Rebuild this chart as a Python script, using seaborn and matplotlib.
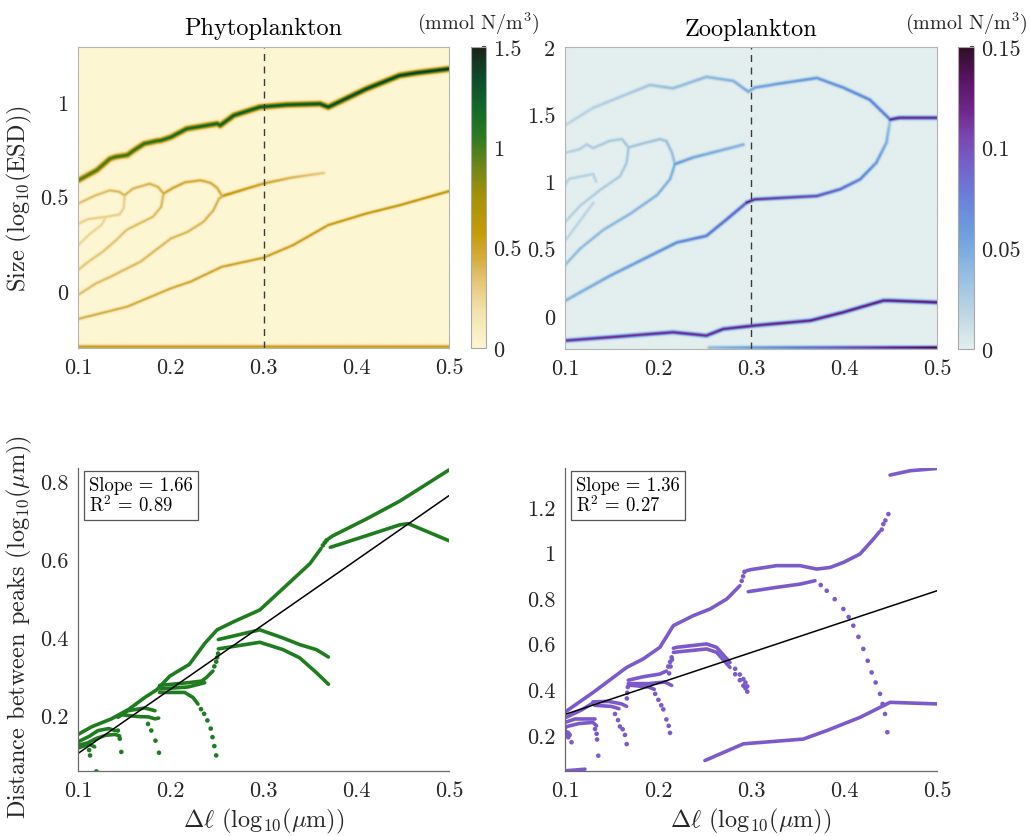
import numpy as np
import matplotlib
matplotlib.use("Agg")
import matplotlib.pyplot as plt
from matplotlib.colors import LinearSegmentedColormap
from matplotlib.ticker import FuncFormatter
import seaborn as sns

# ---------------- data: heatmap branches (x = Δℓ, y = log10 ESD) ----------------
ph_top_x = [0.1, 0.12, 0.134, 0.14, 0.153, 0.16, 0.171, 0.185, 0.189, 0.2, 0.217, 0.25, 0.2533, 0.268, 0.296, 0.325, 0.361, 0.37, 0.411, 0.447, 0.465, 0.5]
ph_top_y = [0.586, 0.64, 0.70, 0.71, 0.72, 0.745, 0.78, 0.795, 0.797, 0.815, 0.859, 0.886, 0.877, 0.93, 0.974, 0.986, 0.991, 0.974, 1.07, 1.141, 1.155, 1.176]
ph_bot_x = [0.1, 0.1528, 0.2, 0.221, 0.255, 0.3, 0.332, 0.37, 0.411, 0.447, 0.5]
ph_bot_y = [-0.148, -0.083, 0.014, 0.049, 0.128, 0.176, 0.243, 0.349, 0.41, 0.454, 0.528]
ph_p3a_x = [0.1, 0.119, 0.135, 0.167, 0.2, 0.218, 0.235, 0.246, 0.252, 0.257]
ph_p3a_y = [-0.02, 0.04, 0.076, 0.155, 0.278, 0.313, 0.366, 0.428, 0.49, 0.505]
ph_p3b_x = [0.257, 0.3, 0.33, 0.365]
ph_p3b_y = [0.505, 0.569, 0.60, 0.625]
ph_p4_x = [0.192, 0.202, 0.215, 0.232, 0.243, 0.25, 0.255]
ph_p4_y = [0.516, 0.545, 0.575, 0.586, 0.572, 0.545, 0.505]
ph_rowa_x = [0.1, 0.107, 0.119, 0.134, 0.144, 0.15, 0.159, 0.177, 0.186, 0.192]
ph_rowa_y = [0.463, 0.48, 0.507, 0.533, 0.525, 0.507, 0.542, 0.568, 0.551, 0.516]
ph_c_x = [0.1, 0.1086, 0.1266, 0.141, 0.152, 0.166, 0.1805, 0.1895, 0.192]
ph_c_y = [0.112, 0.147, 0.209, 0.27, 0.323, 0.358, 0.393, 0.446, 0.516]
ph_rowb_x = [0.1, 0.11, 0.118, 0.13, 0.1445, 0.149, 0.15]
ph_rowb_y = [0.355, 0.38, 0.385, 0.393, 0.405, 0.44, 0.507]
ph_d_x = [0.1, 0.112, 0.125, 0.13]
ph_d_y = [0.244, 0.30, 0.35, 0.393]
ph_edge_x = [0.1, 0.5]
ph_edge_y = [-0.295, -0.295]

zo_a_x = [0.1, 0.13, 0.166, 0.191, 0.216, 0.252, 0.281, 0.297, 0.304, 0.335, 0.371, 0.3995, 0.428, 0.4426, 0.45]
zo_a_y = [1.42, 1.55, 1.65, 1.72, 1.695, 1.78, 1.75, 1.67, 1.70, 1.735, 1.772, 1.70, 1.61, 1.512, 1.462]
zo_tail_x = [0.45, 0.46, 0.5]
zo_tail_y = [1.462, 1.475, 1.475]
zo_b1_x = [0.45, 0.446, 0.435, 0.4175, 0.396, 0.371, 0.304, 0.2953]
zo_b1_y = [1.462, 1.29, 1.14, 1.016, 0.942, 0.892, 0.867, 0.843]
zo_b2_x = [0.2953, 0.274, 0.252, 0.22, 0.184, 0.148, 0.1]
zo_b2_y = [0.843, 0.719, 0.595, 0.545, 0.421, 0.297, 0.112]
zo_r_x = [0.1, 0.115, 0.123, 0.13, 0.148, 0.161, 0.168, 0.181, 0.202, 0.209, 0.2147, 0.218]
zo_r_y = [1.214, 1.24, 1.276, 1.25, 1.303, 1.316, 1.254, 1.279, 1.316, 1.30, 1.217, 1.13]
zo_rc_x = [0.218, 0.238, 0.2917]
zo_rc_y = [1.13, 1.18, 1.275]
zo_c_x = [0.1, 0.116, 0.141, 0.170, 0.199, 0.213, 0.218]
zo_c_y = [0.38, 0.5, 0.64, 0.76, 0.9, 1.02, 1.13]
zo_d_x = [0.1, 0.116, 0.138, 0.159, 0.166, 0.168]
zo_d_y = [0.70, 0.82, 0.94, 1.04, 1.14, 1.254]
zo_e_x = [0.1, 0.104, 0.13, 0.133]
zo_e_y = [0.98, 1.02, 1.056, 1.0]
zo_f_x = [0.1, 0.115, 0.13]
zo_f_y = [0.56, 0.70, 0.84]
zo_g_x = [0.1, 0.15, 0.216, 0.252, 0.27, 0.304, 0.364, 0.3995, 0.4426, 0.45, 0.5]
zo_g_y = [-0.186, -0.16, -0.124, -0.149, -0.1, -0.074, -0.037, 0.025, 0.112, 0.112, 0.099]
zo_h_x = [0.255, 0.5]
zo_h_y = [-0.238, -0.238]

# ---------------- data: distance between peaks (green = phyto) ----------------
g_main_x = [0.100, 0.115, 0.136, 0.155, 0.172, 0.185, 0.199, 0.208, 0.220, 0.237, 0.250, 0.268, 0.296, 0.321, 0.350, 0.362]
g_main_y = [0.150, 0.170, 0.190, 0.215, 0.245, 0.265, 0.300, 0.313, 0.330, 0.385, 0.419, 0.440, 0.470, 0.525, 0.589, 0.628]
g_main2_x = [0.370, 0.375, 0.411, 0.447, 0.500]
g_main2_y = [0.653, 0.661, 0.704, 0.750, 0.830]
g_b1_x = [0.372, 0.411, 0.447, 0.456, 0.500]
g_b1_y = [0.631, 0.661, 0.689, 0.692, 0.648]
g_b2_x = [0.2513, 0.296, 0.321, 0.339, 0.357, 0.370]
g_b2_y = [0.394, 0.419, 0.398, 0.381, 0.368, 0.349]
g_b3_x = [0.2513, 0.296, 0.321, 0.339, 0.357, 0.370]
g_b3_y = [0.370, 0.387, 0.368, 0.347, 0.309, 0.279]
g_c1_x = [0.188, 0.2186, 0.233, 0.2383, 0.242, 0.2455]
g_c1_y = [0.276, 0.283, 0.287, 0.296, 0.305, 0.313]
g_c2_x = [0.188, 0.2186, 0.2366]
g_c2_y = [0.267, 0.272, 0.283]
g_c3_x = [0.188, 0.215, 0.224, 0.2294]
g_c3_y = [0.258, 0.258, 0.245, 0.228]
g_d1_x = [0.143, 0.154, 0.172, 0.183]
g_d1_y = [0.194, 0.211, 0.218, 0.211]
g_d2_x = [0.149, 0.165, 0.176, 0.183, 0.187]
g_d2_y = [0.200, 0.196, 0.195, 0.190, 0.192]
g_e1_x = [0.1, 0.112, 0.1216, 0.133, 0.14]
g_e1_y = [0.131, 0.145, 0.16, 0.165, 0.16]
g_e2_x = [0.1, 0.11, 0.12, 0.13, 0.14, 0.145]
g_e2_y = [0.122, 0.128, 0.14, 0.148, 0.15, 0.146]
g_e3_x = [0.1, 0.106, 0.112, 0.118]
g_e3_y = [0.115, 0.12, 0.125, 0.118]
g_dots_x = [0.364, 0.366, 0.368,
            0.247, 0.249, 0.250, 0.251,
            0.2326, 0.236, 0.2395, 0.2431, 0.245, 0.247, 0.249,
            0.1755, 0.179, 0.1835, 0.1873,
            0.143, 0.145, 0.1467,
            0.112, 0.113, 0.1198]
g_dots_y = [0.636, 0.643, 0.649,
            0.325, 0.337, 0.348, 0.358,
            0.215, 0.203, 0.186, 0.165, 0.143, 0.12, 0.096,
            0.177, 0.160, 0.134, 0.103,
            0.160, 0.139, 0.105,
            0.110, 0.096, 0.055]
g_fit_x = [0.1, 0.5]
g_fit_y = [0.101, 0.764]

# ---------------- data: distance between peaks (purple = zoo) ----------------
v_main1_x = [0.1, 0.1305, 0.1663, 0.184, 0.202, 0.2165, 0.238, 0.256, 0.274, 0.288]
v_main1_y = [0.30, 0.387, 0.496, 0.533, 0.584, 0.679, 0.723, 0.752, 0.796, 0.854]
v_main2_x = [0.2955, 0.299, 0.3276, 0.3527, 0.3706, 0.385, 0.3993, 0.4172, 0.4315, 0.438]
v_main2_y = [0.92, 0.924, 0.942, 0.942, 0.927, 0.934, 0.956, 0.993, 1.058, 1.09]
v_top_x = [0.4495, 0.471, 0.5]
v_top_y = [1.339, 1.358, 1.368]
v_b1_x = [0.2971, 0.3276, 0.3527, 0.3688]
v_b1_y = [0.828, 0.847, 0.861, 0.876]
v_bot_x = [0.2505, 0.2918, 0.3348, 0.3563, 0.3814, 0.4172, 0.4423, 0.4495, 0.471, 0.5]
v_bot_y = [0.088, 0.161, 0.175, 0.182, 0.219, 0.277, 0.328, 0.343, 0.34, 0.336]
v_c1_x = [0.2165, 0.22, 0.2523, 0.263, 0.2774]
v_c1_y = [0.58, 0.584, 0.599, 0.584, 0.518]
v_c2_x = [0.2165, 0.2523, 0.263, 0.2774]
v_c2_y = [0.562, 0.577, 0.562, 0.496]
v_d1_x = [0.168, 0.184, 0.202, 0.209]
v_d1_y = [0.44, 0.455, 0.467, 0.48]
v_d2_x = [0.168, 0.19, 0.2075, 0.2147]
v_d2_y = [0.425, 0.425, 0.432, 0.417]
v_d3_x = [0.17, 0.19, 0.196]
v_d3_y = [0.418, 0.41, 0.40]
v_e1_x = [0.13, 0.147, 0.161, 0.1663]
v_e1_y = [0.345, 0.347, 0.336, 0.325]
v_e2_x = [0.132, 0.15, 0.158]
v_e2_y = [0.33, 0.325, 0.315]
v_f1_x = [0.1, 0.1108, 0.1323]
v_f1_y = [0.255, 0.27, 0.27]
v_f2_x = [0.1, 0.115, 0.13, 0.134]
v_f2_y = [0.235, 0.25, 0.255, 0.24]
v_g_x = [0.1, 0.118, 0.13]
v_g_y = [0.275, 0.31, 0.34]
v_low_x = [0.1, 0.11, 0.1215]
v_low_y = [0.043, 0.046, 0.05]
v_dots_x = [0.290, 0.2915, 0.293,
            0.4405, 0.4423, 0.4445, 0.4477,
            0.375, 0.3814, 0.390, 0.3993, 0.405, 0.41, 0.4155, 0.4208, 0.4255, 0.4297, 0.434, 0.4387, 0.4415, 0.4441, 0.4466,
            0.283, 0.288, 0.2918, 0.294, 0.296,
            0.283, 0.288, 0.2918, 0.294, 0.296,
            0.2120, 0.2135, 0.2150,
            0.211, 0.213, 0.2147,
            0.197, 0.2004, 0.2035, 0.2057, 0.209, 0.2115, 0.2129,
            0.1538, 0.157, 0.159, 0.162, 0.1645, 0.1663,
            0.1665, 0.167, 0.1675,
            0.1323, 0.134, 0.1345, 0.1358,
            0.1, 0.1005, 0.101, 0.102, 0.1025, 0.103, 0.1035, 0.104, 0.105, 0.107]
v_dots_y = [0.875, 0.895, 0.915,
            1.10, 1.124, 1.14, 1.168,
            0.857, 0.832, 0.795, 0.752, 0.717, 0.679, 0.63, 0.577, 0.525, 0.474, 0.43, 0.38, 0.336, 0.292, 0.212,
            0.49, 0.465, 0.445, 0.43, 0.413,
            0.466, 0.44, 0.416, 0.405, 0.39,
            0.47, 0.50, 0.53,
            0.50, 0.52, 0.54,
            0.38, 0.354, 0.33, 0.312, 0.268, 0.24, 0.209,
            0.292, 0.265, 0.237, 0.225, 0.2, 0.16,
            0.36, 0.385, 0.41,
            0.226, 0.205, 0.18, 0.109,
            0.23, 0.215, 0.205, 0.2, 0.195, 0.21, 0.19, 0.205, 0.2, 0.168]
v_fit_x = [0.1, 0.5]
v_fit_y = [0.29, 0.832]

# ---------------- style ----------------
sns.set_theme(style="white")
plt.rcParams["font.family"] = ["cmr10", "DejaVu Serif"]
plt.rcParams["mathtext.fontset"] = "cm"
plt.rcParams["axes.unicode_minus"] = False
plt.rcParams["axes.formatter.use_mathtext"] = True
TXT = "#262626"

speed = LinearSegmentedColormap.from_list("speed", [
    (0.0, "#fdf6d2"), (0.12, "#f3e2ae"), (0.22, "#e4c676"), (0.3, "#d4ac3a"),
    (0.38, "#c49c08"), (0.5, "#a59205"), (0.6, "#718616"), (0.7, "#2f7a22"),
    (0.8, "#11682a"), (0.9, "#0f4a2c"), (1.0, "#1b2219")])
dense = LinearSegmentedColormap.from_list("dense", [
    (0.0, "#e3eeee"), (0.12, "#bcd6e2"), (0.25, "#93bde2"), (0.38, "#6e9fdf"),
    (0.5, "#6a80da"), (0.6, "#7464cc"), (0.7, "#7a48b2"), (0.8, "#6e2488"),
    (0.9, "#571361"), (1.0, "#2e0f25")])

fmt = FuncFormatter(lambda v, p: "%g" % round(v, 4))


def render(paths, ylim, W=372.0, H=302.0, nx=480, ny=390):
    gx = np.linspace(0, W, nx)
    gy = np.linspace(0, H, ny)
    PX, PY = np.meshgrid(gx, gy)
    PX = PX.ravel()[:, None]
    PY = PY.ravel()[:, None]
    field = np.zeros(PX.shape[0])
    for xs, ys, a0, a1, sig in paths:
        xs = np.asarray(xs, float)
        ys = np.asarray(ys, float)
        px = (xs - 0.1) / 0.4 * W
        py = (ys - ylim[0]) / (ylim[1] - ylim[0]) * H
        amps = np.linspace(a0, a1, len(xs))
        ax_, ay_ = px[:-1][None, :], py[:-1][None, :]
        dx, dy = (px[1:] - px[:-1])[None, :], (py[1:] - py[:-1])[None, :]
        L2 = np.maximum(dx ** 2 + dy ** 2, 1e-9)
        t = np.clip(((PX - ax_) * dx + (PY - ay_) * dy) / L2, 0, 1)
        d2 = (PX - ax_ - t * dx) ** 2 + (PY - ay_ - t * dy) ** 2
        amp = amps[:-1][None, :] + t * (amps[1:] - amps[:-1])[None, :]
        val = (amp * np.exp(-d2 / (2 * sig ** 2))).max(axis=1)
        field = np.maximum(field, val)
    return field.reshape(ny, nx)


fig = plt.figure(figsize=(10.30, 8.37), dpi=100)
W, H = 1030.0, 837.0


def box(l, r, t, b):
    return [l / W, (H - b) / H, (r - l) / W, (b - t) / H]


ax1 = fig.add_axes(box(78, 449, 48, 349))
cax1 = fig.add_axes(box(471, 486, 48, 349))
ax2 = fig.add_axes(box(565, 937, 48, 350))
cax2 = fig.add_axes(box(958, 974, 48, 350))
ax3 = fig.add_axes(box(78, 449, 469, 772))
ax4 = fig.add_axes(box(565, 937, 469, 772))

# ---------------- top heatmaps ----------------
ph_ylim = (-0.3, 1.29)
ph_paths = [
    (ph_top_x, ph_top_y, 1.0, 1.45, 1.9),
    (ph_bot_x, ph_bot_y, 0.45, 0.62, 1.15),
    (ph_p3a_x, ph_p3a_y, 0.38, 0.45, 1.15),
    (ph_p3b_x, ph_p3b_y, 0.62, 0.32, 1.25),
    (ph_p4_x, ph_p4_y, 0.5, 0.45, 1.25),
    (ph_rowa_x, ph_rowa_y, 0.37, 0.45, 1.15),
    (ph_c_x, ph_c_y, 0.33, 0.42, 1.15),
    (ph_rowb_x, ph_rowb_y, 0.3, 0.3, 1.1),
    (ph_d_x, ph_d_y, 0.27, 0.27, 1.1),
    (ph_edge_x, ph_edge_y, 0.55, 0.55, 1.4),
]
ph_field = render(ph_paths, ph_ylim)
im1 = ax1.imshow(ph_field, extent=[0.1, 0.5, ph_ylim[0], ph_ylim[1]], origin="lower",
                 aspect="auto", cmap=speed, vmin=0, vmax=1.5, interpolation="bilinear")

zo_ylim = (-0.246, 2.0)
zo_paths = [
    (zo_a_x, zo_a_y, 0.018, 0.085, 1.2),
    (zo_tail_x, zo_tail_y, 0.125, 0.125, 1.3),
    (zo_b1_x, zo_b1_y, 0.035, 0.135, 1.2),
    (zo_b2_x, zo_b2_y, 0.1, 0.045, 1.2),
    (zo_r_x, zo_r_y, 0.022, 0.038, 1.1),
    (zo_rc_x, zo_rc_y, 0.065, 0.045, 1.2),
    (zo_c_x, zo_c_y, 0.038, 0.05, 1.1),
    (zo_d_x, zo_d_y, 0.022, 0.032, 1.05),
    (zo_e_x, zo_e_y, 0.022, 0.022, 1.05),
    (zo_f_x, zo_f_y, 0.02, 0.02, 1.05),
    (zo_g_x, zo_g_y, 0.12, 0.135, 1.3),
    (zo_h_x, zo_h_y, 0.04, 0.15, 1.2),
]
zo_field = render(zo_paths, zo_ylim)
im2 = ax2.imshow(zo_field, extent=[0.1, 0.5, zo_ylim[0], zo_ylim[1]], origin="lower",
                 aspect="auto", cmap=dense, vmin=0, vmax=0.15, interpolation="bilinear")

for ax, ylim, yt, title in [(ax1, ph_ylim, [0, 0.5, 1], "Phytoplankton"),
                            (ax2, zo_ylim, [0, 0.5, 1, 1.5, 2], "Zooplankton")]:
    ax.set_xlim(0.1, 0.5)
    ax.set_ylim(*ylim)
    ax.set_xticks([0.1, 0.2, 0.3, 0.4, 0.5])
    ax.set_yticks(yt)
    ax.xaxis.set_major_formatter(fmt)
    ax.yaxis.set_major_formatter(fmt)
    ax.tick_params(length=0, labelsize=16, colors=TXT, pad=7)
    ax.axvline(0.3, color="#3a3a3a", lw=1.0, ls=(0, (5, 4)))
    for s in ax.spines.values():
        s.set_color("#b4b4b4")
        s.set_linewidth(0.8)
    ax.set_title(title, fontsize=17.5, color="black", pad=9)

ax1.set_ylabel(r"Size (log$_{10}$(ESD))", fontsize=17.5, color=TXT)
ax1.yaxis.set_label_coords(-0.118, 0.5)

for cax, im, ticks in [(cax1, im1, [0, 0.5, 1, 1.5]), (cax2, im2, [0, 0.05, 0.1, 0.15])]:
    cb = fig.colorbar(im, cax=cax, ticks=ticks)
    cb.ax.yaxis.set_major_formatter(fmt)
    cb.ax.tick_params(labelsize=16, colors=TXT, direction="in", length=3, pad=5)
    cb.outline.set_edgecolor("#a8a8a8")
    cb.outline.set_linewidth(0.8)
    pos = cax.get_position()
    fig.text(pos.x0 + pos.width / 2, 1 - 23 / H, r"(mmol N/m$^3$)", ha="center", va="center",
             fontsize=14.5, color=TXT)

# ---------------- bottom scatter panels ----------------
GREEN = "#1f7d1f"
PURPLE = "#7c5acc"
LW = 2.6


def draw(ax, lines, dots_x, dots_y, color, fit_x, fit_y):
    for xs, ys in lines:
        sns.lineplot(x=xs, y=ys, ax=ax, color=color, lw=LW, sort=False, estimator=None,
                     solid_capstyle="round", solid_joinstyle="round")
    sns.scatterplot(x=dots_x, y=dots_y, ax=ax, color=color, s=11, edgecolor="none", linewidth=0)
    sns.lineplot(x=fit_x, y=fit_y, ax=ax, color="black", lw=1.1, sort=False, estimator=None)


draw(ax3, [(g_main_x, g_main_y), (g_main2_x, g_main2_y), (g_b1_x, g_b1_y), (g_b2_x, g_b2_y),
           (g_b3_x, g_b3_y), (g_c1_x, g_c1_y), (g_c2_x, g_c2_y), (g_c3_x, g_c3_y),
           (g_d1_x, g_d1_y), (g_d2_x, g_d2_y), (g_e1_x, g_e1_y), (g_e2_x, g_e2_y), (g_e3_x, g_e3_y)],
     g_dots_x, g_dots_y, GREEN, g_fit_x, g_fit_y)
draw(ax4, [(v_main1_x, v_main1_y), (v_main2_x, v_main2_y), (v_top_x, v_top_y), (v_b1_x, v_b1_y),
           (v_bot_x, v_bot_y), (v_c1_x, v_c1_y), (v_c2_x, v_c2_y), (v_d1_x, v_d1_y),
           (v_d2_x, v_d2_y), (v_d3_x, v_d3_y), (v_e1_x, v_e1_y), (v_e2_x, v_e2_y),
           (v_f1_x, v_f1_y), (v_f2_x, v_f2_y), (v_g_x, v_g_y), (v_low_x, v_low_y)],
     v_dots_x, v_dots_y, PURPLE, v_fit_x, v_fit_y)

for ax, ylim, yt, txt in [(ax3, (0.056, 0.835), [0.2, 0.4, 0.6, 0.8], "Slope = 1.66\nR$^2$ = 0.89"),
                          (ax4, (0.042, 1.37), [0.2, 0.4, 0.6, 0.8, 1.0, 1.2], "Slope = 1.36\nR$^2$ = 0.27")]:
    ax.set_xlim(0.1, 0.5)
    ax.set_ylim(*ylim)
    ax.set_xticks([0.1, 0.2, 0.3, 0.4, 0.5])
    ax.set_yticks(yt)
    ax.xaxis.set_major_formatter(fmt)
    ax.yaxis.set_major_formatter(fmt)
    ax.tick_params(direction="in", length=5, width=0.8, color="#555555", labelsize=16,
                   labelcolor=TXT, pad=7)
    ax.spines["top"].set_visible(False)
    ax.spines["right"].set_visible(False)
    for s in ("left", "bottom"):
        ax.spines[s].set_color("#6a6a6a")
        ax.spines[s].set_linewidth(0.9)
    ax.set_xlabel(r"$\Delta\ell$ (log$_{10}$($\mu$m))", fontsize=17.5, color=TXT)
    ax.xaxis.set_label_coords(0.5, -0.115)
    ax.text(0.03, 0.975, txt, transform=ax.transAxes, ha="left", va="top", fontsize=13.5,
            color="black", linespacing=1.05,
            bbox=dict(boxstyle="square,pad=0.25", fc="white", ec="#555555", lw=0.9))

ax3.set_ylabel(r"Distance between peaks (log$_{10}$($\mu$m))", fontsize=17.5, color=TXT)
ax3.yaxis.set_label_coords(-0.118, 0.48)

fig.savefig("out.png", dpi=100, facecolor="white")
